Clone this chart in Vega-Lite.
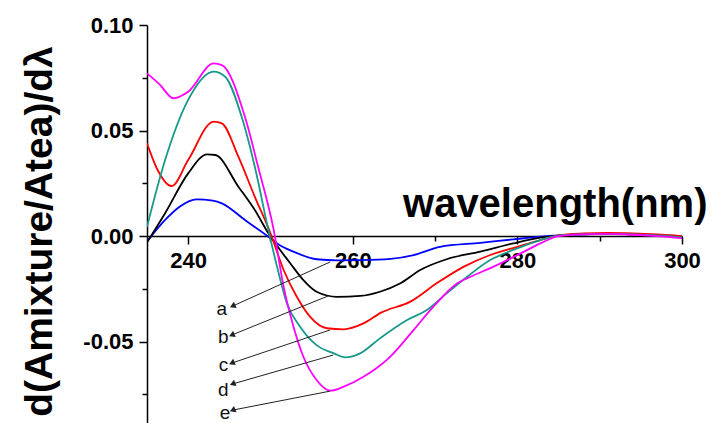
{
  "$schema": "https://vega.github.io/schema/vega-lite/v6.json",
  "width": 535,
  "height": 398,
  "autosize": {"type": "none"},
  "padding": {"left": 147, "top": 25, "right": 30, "bottom": 0},
  "background": "white",
  "config": {"view": {"stroke": null}, "font": "Liberation Sans"},
  "datasets": {
    "curves": [
      {"sample": "a", "wavelength": 235, "value": -0.0027},
      {"sample": "a", "wavelength": 237.2, "value": 0.0076},
      {"sample": "a", "wavelength": 239, "value": 0.014},
      {"sample": "a", "wavelength": 241, "value": 0.0174},
      {"sample": "a", "wavelength": 243, "value": 0.0168},
      {"sample": "a", "wavelength": 244.1, "value": 0.0155},
      {"sample": "a", "wavelength": 246.9, "value": 0.0076},
      {"sample": "a", "wavelength": 249.75, "value": -0.0003},
      {"sample": "a", "wavelength": 251, "value": -0.004},
      {"sample": "a", "wavelength": 252.8, "value": -0.0074},
      {"sample": "a", "wavelength": 255.6, "value": -0.011},
      {"sample": "a", "wavelength": 258.1, "value": -0.0115},
      {"sample": "a", "wavelength": 261, "value": -0.0114},
      {"sample": "a", "wavelength": 264.6, "value": -0.0108},
      {"sample": "a", "wavelength": 267.4, "value": -0.009},
      {"sample": "a", "wavelength": 270.6, "value": -0.0051},
      {"sample": "a", "wavelength": 275.5, "value": -0.0032},
      {"sample": "a", "wavelength": 279.5, "value": -0.0016},
      {"sample": "a", "wavelength": 282.8, "value": -0.0003},
      {"sample": "a", "wavelength": 285, "value": 0.0003},
      {"sample": "a", "wavelength": 288, "value": 0.0008},
      {"sample": "a", "wavelength": 291, "value": 0.001},
      {"sample": "a", "wavelength": 294, "value": 0.0008},
      {"sample": "a", "wavelength": 297, "value": 0.0004},
      {"sample": "a", "wavelength": 300, "value": 0.0},

      {"sample": "b", "wavelength": 235, "value": -0.003},
      {"sample": "b", "wavelength": 237.2, "value": 0.0108},
      {"sample": "b", "wavelength": 240, "value": 0.0297},
      {"sample": "b", "wavelength": 242.3, "value": 0.0387},
      {"sample": "b", "wavelength": 243.3, "value": 0.0384},
      {"sample": "b", "wavelength": 246.1, "value": 0.0234},
      {"sample": "b", "wavelength": 248.1, "value": 0.0123},
      {"sample": "b", "wavelength": 249.75, "value": 0.0013},
      {"sample": "b", "wavelength": 252.4, "value": -0.0129},
      {"sample": "b", "wavelength": 254, "value": -0.0209},
      {"sample": "b", "wavelength": 255.6, "value": -0.0264},
      {"sample": "b", "wavelength": 258.1, "value": -0.0288},
      {"sample": "b", "wavelength": 260.9, "value": -0.0284},
      {"sample": "b", "wavelength": 263.3, "value": -0.0264},
      {"sample": "b", "wavelength": 265.8, "value": -0.0224},
      {"sample": "b", "wavelength": 268.2, "value": -0.0161},
      {"sample": "b", "wavelength": 271.4, "value": -0.011},
      {"sample": "b", "wavelength": 275.5, "value": -0.0074},
      {"sample": "b", "wavelength": 279.5, "value": -0.0035},
      {"sample": "b", "wavelength": 282.8, "value": -0.0008},
      {"sample": "b", "wavelength": 285, "value": 0.0002},
      {"sample": "b", "wavelength": 288, "value": 0.0008},
      {"sample": "b", "wavelength": 291, "value": 0.001},
      {"sample": "b", "wavelength": 294, "value": 0.0008},
      {"sample": "b", "wavelength": 297, "value": 0.0004},
      {"sample": "b", "wavelength": 300, "value": -0.0004},

      {"sample": "c", "wavelength": 235, "value": 0.0439},
      {"sample": "c", "wavelength": 236.2, "value": 0.032},
      {"sample": "c", "wavelength": 238, "value": 0.0237},
      {"sample": "c", "wavelength": 240, "value": 0.036},
      {"sample": "c", "wavelength": 243.1, "value": 0.0542},
      {"sample": "c", "wavelength": 244.1, "value": 0.0534},
      {"sample": "c", "wavelength": 246.1, "value": 0.0376},
      {"sample": "c", "wavelength": 248.1, "value": 0.0186},
      {"sample": "c", "wavelength": 250, "value": 0.0013},
      {"sample": "c", "wavelength": 251.6, "value": -0.0161},
      {"sample": "c", "wavelength": 253.2, "value": -0.0288},
      {"sample": "c", "wavelength": 254.8, "value": -0.0382},
      {"sample": "c", "wavelength": 256.85, "value": -0.0437},
      {"sample": "c", "wavelength": 258.9, "value": -0.0442},
      {"sample": "c", "wavelength": 261.3, "value": -0.0414},
      {"sample": "c", "wavelength": 263.5, "value": -0.0362},
      {"sample": "c", "wavelength": 267, "value": -0.0311},
      {"sample": "c", "wavelength": 270.2, "value": -0.0224},
      {"sample": "c", "wavelength": 273.5, "value": -0.0145},
      {"sample": "c", "wavelength": 276.7, "value": -0.009},
      {"sample": "c", "wavelength": 280, "value": -0.0051},
      {"sample": "c", "wavelength": 282.8, "value": -0.0019},
      {"sample": "c", "wavelength": 285, "value": 0.0003},
      {"sample": "c", "wavelength": 288, "value": 0.0012},
      {"sample": "c", "wavelength": 291, "value": 0.0015},
      {"sample": "c", "wavelength": 294, "value": 0.0013},
      {"sample": "c", "wavelength": 297, "value": 0.0008},
      {"sample": "c", "wavelength": 300, "value": 0.0},

      {"sample": "d", "wavelength": 235, "value": 0.0044},
      {"sample": "d", "wavelength": 237.2, "value": 0.036},
      {"sample": "d", "wavelength": 240, "value": 0.0645},
      {"sample": "d", "wavelength": 243.1, "value": 0.0779},
      {"sample": "d", "wavelength": 244.5, "value": 0.0755},
      {"sample": "d", "wavelength": 246.5, "value": 0.0565},
      {"sample": "d", "wavelength": 248.1, "value": 0.0328},
      {"sample": "d", "wavelength": 249.75, "value": 0.0028},
      {"sample": "d", "wavelength": 250.8, "value": -0.0145},
      {"sample": "d", "wavelength": 252, "value": -0.0319},
      {"sample": "d", "wavelength": 253.6, "value": -0.043},
      {"sample": "d", "wavelength": 255.6, "value": -0.0517},
      {"sample": "d", "wavelength": 257.7, "value": -0.0556},
      {"sample": "d", "wavelength": 259.1, "value": -0.0575},
      {"sample": "d", "wavelength": 260.9, "value": -0.0556},
      {"sample": "d", "wavelength": 263.3, "value": -0.0485},
      {"sample": "d", "wavelength": 266.6, "value": -0.0398},
      {"sample": "d", "wavelength": 269, "value": -0.0351},
      {"sample": "d", "wavelength": 271.4, "value": -0.0272},
      {"sample": "d", "wavelength": 273.9, "value": -0.0193},
      {"sample": "d", "wavelength": 276.7, "value": -0.0114},
      {"sample": "d", "wavelength": 279.5, "value": -0.0066},
      {"sample": "d", "wavelength": 282.8, "value": -0.0019},
      {"sample": "d", "wavelength": 285, "value": 0.0002},
      {"sample": "d", "wavelength": 288, "value": 0.0008},
      {"sample": "d", "wavelength": 291, "value": 0.001},
      {"sample": "d", "wavelength": 294, "value": 0.0008},
      {"sample": "d", "wavelength": 297, "value": 0.0003},
      {"sample": "d", "wavelength": 300, "value": -0.0006},

      {"sample": "e", "wavelength": 235, "value": 0.0771},
      {"sample": "e", "wavelength": 236.5, "value": 0.072},
      {"sample": "e", "wavelength": 238.2, "value": 0.0653},
      {"sample": "e", "wavelength": 240, "value": 0.0684},
      {"sample": "e", "wavelength": 243.1, "value": 0.0818},
      {"sample": "e", "wavelength": 244.1, "value": 0.081},
      {"sample": "e", "wavelength": 246.9, "value": 0.0565},
      {"sample": "e", "wavelength": 248.5, "value": 0.0328},
      {"sample": "e", "wavelength": 250.4, "value": 0.0028},
      {"sample": "e", "wavelength": 251.6, "value": -0.024},
      {"sample": "e", "wavelength": 252.8, "value": -0.043},
      {"sample": "e", "wavelength": 254, "value": -0.0572},
      {"sample": "e", "wavelength": 255.6, "value": -0.0682},
      {"sample": "e", "wavelength": 257.3, "value": -0.0733},
      {"sample": "e", "wavelength": 258.9, "value": -0.0714},
      {"sample": "e", "wavelength": 261.3, "value": -0.0667},
      {"sample": "e", "wavelength": 264.6, "value": -0.057},
      {"sample": "e", "wavelength": 267.4, "value": -0.0445},
      {"sample": "e", "wavelength": 269.8, "value": -0.0335},
      {"sample": "e", "wavelength": 272.7, "value": -0.0224},
      {"sample": "e", "wavelength": 274.3, "value": -0.0193},
      {"sample": "e", "wavelength": 277.1, "value": -0.0145},
      {"sample": "e", "wavelength": 280.4, "value": -0.0082},
      {"sample": "e", "wavelength": 282.8, "value": -0.0035},
      {"sample": "e", "wavelength": 285, "value": 0.0},
      {"sample": "e", "wavelength": 288, "value": 0.0008},
      {"sample": "e", "wavelength": 291, "value": 0.001},
      {"sample": "e", "wavelength": 294, "value": 0.0006},
      {"sample": "e", "wavelength": 297, "value": 0.0},
      {"sample": "e", "wavelength": 300, "value": -0.001}
    ],
    "notes": [
      {"label": "a", "lx": 244.1, "ly": -0.0347, "tx": 245.4, "ty": -0.0332, "ex": 257.25, "ey": -0.0123},
      {"label": "b", "lx": 244.28, "ly": -0.0477, "tx": 245.3, "ty": -0.0469, "ex": 257.01, "ey": -0.0284},
      {"label": "c", "lx": 244.28, "ly": -0.0611, "tx": 245.3, "ty": -0.0602, "ex": 257.25, "ey": -0.0445},
      {"label": "d", "lx": 244.28, "ly": -0.073, "tx": 245.4, "ty": -0.0701, "ex": 257.62, "ey": -0.0564},
      {"label": "e", "lx": 244.49, "ly": -0.084, "tx": 245.4, "ty": -0.0825, "ex": 257.25, "ey": -0.0735}
    ]
  },
  "layer": [
    {
      "data": {"name": "curves"},
      "mark": {"type": "line", "interpolate": "monotone", "strokeWidth": 1.8, "clip": true},
      "encoding": {
        "x": {
          "field": "wavelength", "type": "quantitative", "title": "wavelength(nm)",
          "scale": {"domain": [235, 300], "nice": false, "zero": false},
          "axis": {
            "orient": "bottom",
            "offset": -187,
            "values": [240, 250, 260, 270, 280, 290, 300],
            "format": "d",
            "labelExpr": "datum.value % 20 === 0 ? datum.label : ''",
            "labelFont": "Liberation Sans", "labelFontSize": 22, "labelFontWeight": "bold", "labelColor": "#000",
            "labelPadding": 6, "labelFlush": false, "labelOverlap": false,
            "tickSize": {"condition": {"test": "datum.value % 20 === 0", "value": 8}, "value": 5},
            "tickColor": "#000", "tickWidth": 1.5,
            "domainColor": "#000", "domainWidth": 1.5,
            "grid": false,
            "titleFont": "Liberation Sans", "titleFontSize": 40, "titleFontWeight": "bold", "titleColor": "#000",
            "titleX": 560, "titleY": -20, "titleAlign": "right", "titleBaseline": "alphabetic"
          }
        },
        "y": {
          "field": "value", "type": "quantitative", "title": "d(Amixture/Atea)/dλ",
          "scale": {"domain": [-0.0886, 0.1], "nice": false, "zero": false},
          "axis": {
            "values": [-0.075, -0.05, -0.025, 0, 0.025, 0.05, 0.075, 0.1],
            "labelExpr": "abs(datum.value * 20 - round(datum.value * 20)) < 0.001 ? replace(format(datum.value, '.2f'), '\u2212', '-') : ''",
            "labelFont": "Liberation Sans", "labelFontSize": 22, "labelFontWeight": "bold", "labelColor": "#000",
            "labelPadding": 6, "labelOverlap": false, "labelFlush": false,
            "tickSize": {"condition": {"test": "abs(datum.value * 20 - round(datum.value * 20)) < 0.001", "value": 8}, "value": 5},
            "tickColor": "#000", "tickWidth": 1.5,
            "domainColor": "#000", "domainWidth": 1.5,
            "grid": false,
            "titleFont": "Liberation Sans", "titleFontSize": 39, "titleFontWeight": "bold", "titleColor": "#000",
            "titleAngle": -90, "titleX": -96, "titleY": 206, "titleAlign": "center", "titleBaseline": "alphabetic"
          }
        },
        "color": {
          "field": "sample", "type": "nominal",
          "scale": {"domain": ["a", "b", "c", "d", "e"], "range": ["#0000ff", "#000000", "#ff0000", "#16998a", "#ff00ff"]},
          "legend": null
        }
      }
    },
    {
      "data": {"name": "notes"},
      "mark": {"type": "rule", "color": "#222222", "strokeWidth": 1},
      "encoding": {
        "x": {"field": "tx", "type": "quantitative", "title": "wavelength(nm)"},
        "y": {"field": "ty", "type": "quantitative", "title": "d(Amixture/Atea)/dλ"},
        "x2": {"field": "ex"},
        "y2": {"field": "ey"}
      }
    },
    {
      "data": {"name": "notes"},
      "mark": {"type": "point", "shape": "triangle-left", "filled": true, "color": "#222222", "size": 45, "opacity": 1},
      "encoding": {
        "x": {"field": "tx", "type": "quantitative", "title": "wavelength(nm)"},
        "y": {"field": "ty", "type": "quantitative", "title": "d(Amixture/Atea)/dλ"},
        "angle": {"field": "label", "type": "nominal", "legend": null, "scale": {"domain": ["a", "b", "c", "d", "e"], "range": [336, 338, 342, 344, 349]}}
      }
    },
    {
      "data": {"name": "notes"},
      "mark": {"type": "text", "font": "Liberation Sans", "fontSize": 19, "color": "#111111", "align": "center", "baseline": "middle"},
      "encoding": {
        "x": {"field": "lx", "type": "quantitative", "title": "wavelength(nm)"},
        "y": {"field": "ly", "type": "quantitative", "title": "d(Amixture/Atea)/dλ"},
        "text": {"field": "label"}
      }
    }
  ]
}
